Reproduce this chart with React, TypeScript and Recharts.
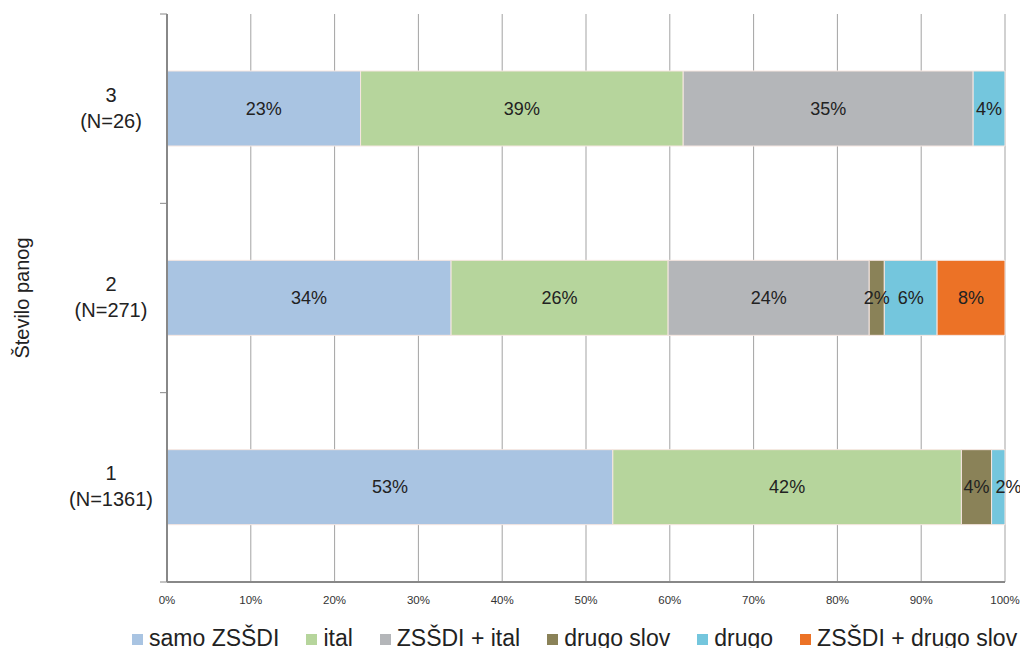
import { BarChart, Bar, XAxis, YAxis, CartesianGrid, Legend, LabelList } from 'recharts';

const panogLabels = ['3', '2', '1'];
const nLabels = ['(N=26)', '(N=271)', '(N=1361)'];

const samoZSSDI = [23.1, 33.9, 53.2];
const ital = [38.5, 25.9, 41.6];
const zssdiItal = [34.6, 24.0, 0];
const drugoSlov = [0, 1.8, 3.6];
const drugo = [3.8, 6.3, 1.6];
const zssdiDrugoSlov = [0, 8.1, 0];

const xTicks = [0, 10, 20, 30, 40, 50, 60, 70, 80, 90, 100];

const series = [
  { key: 'samo', name: 'samo ZSŠDI', color: '#a9c4e2', values: samoZSSDI },
  { key: 'ital', name: 'ital', color: '#b6d59c', values: ital },
  { key: 'zssdiItal', name: 'ZSŠDI + ital', color: '#b4b6b9', values: zssdiItal },
  { key: 'drugoSlov', name: 'drugo slov', color: '#8a8258', values: drugoSlov },
  { key: 'drugo', name: 'drugo', color: '#74c6dd', values: drugo },
  { key: 'zssdiDrugoSlov', name: 'ZSŠDI + drugo slov', color: '#ec7226', values: zssdiDrugoSlov },
];

const data = panogLabels.map((p, i) => {
  const row: Record<string, string | number> = { cat: p, n: nLabels[i] };
  series.forEach((s) => {
    row[s.key] = s.values[i];
  });
  return row;
});

const FONT = '"Liberation Sans", Arial, Helvetica, sans-serif';

function SegmentLabel(props: any) {
  const { x, y, width, height, value } = props;
  if (!value) return null;
  const small = width < 14;
  return (
    <text
      x={small ? x + 4 : x + width / 2}
      y={y + height / 2}
      textAnchor={small ? 'start' : 'middle'}
      dominantBaseline="central"
      fontSize={18}
      fontFamily={FONT}
      fill="#222"
    >
      {Math.round(value)}%
    </text>
  );
}

function CategoryTick(props: any) {
  const { x, y, payload, index } = props;
  const off = payload.offset || 94;
  return (
    <g>
      <line x1={x + 1} x2={x + 8} y1={y - off} y2={y - off} stroke="#888" />
      {index === panogLabels.length - 1 && (
        <line x1={x + 1} x2={x + 8} y1={y + off} y2={y + off} stroke="#888" />
      )}
      <text x={x - 48} y={y - 7} textAnchor="middle" fontSize={20} fontFamily={FONT} fill="#222">
        {payload.value}
      </text>
      <text x={x - 48} y={y + 19} textAnchor="middle" fontSize={20} fontFamily={FONT} fill="#222">
        {nLabels[panogLabels.indexOf(payload.value)]}
      </text>
    </g>
  );
}

function LegendContent() {
  return (
    <div
      style={{
        display: 'flex',
        justifyContent: 'flex-start',
        gap: 27,
        paddingTop: 13,
        paddingLeft: 95,
        width: 1000,
        fontSize: 23,
        lineHeight: '26px',
        fontFamily: FONT,
        color: '#222',
        whiteSpace: 'nowrap',
      }}
    >
      {series.map((s) => (
        <span key={s.key} style={{ display: 'flex', alignItems: 'center' }}>
          <span style={{ display: 'inline-block', width: 11, height: 11, background: s.color, marginRight: 6, marginTop: 3 }} />
          {s.name}
        </span>
      ))}
    </div>
  );
}

export default function App() {
  return (
    <BarChart
      width={1020}
      height={640}
      data={data}
      layout="vertical"
      margin={{ top: 6, right: 23, bottom: 0, left: 29 }}
    >
      <CartesianGrid horizontal={false} stroke="#a3a3a3" />
      <XAxis
        type="number"
        domain={[0, 100]}
        ticks={xTicks}
        tickFormatter={(v) => `${v}%`}
        tickLine={false}
        axisLine={{ stroke: '#888', strokeWidth: 2 }}
        tick={{ fontSize: 11.5, fill: '#333', fontFamily: '"Liberation Sans Narrow", ' + FONT, dy: 6 }}
        height={30}
        interval={0}
      />
      <YAxis
        type="category"
        dataKey="cat"
        width={130}
        tickLine={false}
        axisLine={{ stroke: '#888', strokeWidth: 2 }}
        tick={<CategoryTick />}
        label={{
          value: 'Število panog',
          angle: -90,
          position: 'insideLeft',
          dx: -20,
          style: { fontSize: 20, fill: '#222', fontFamily: FONT, textAnchor: 'middle' },
        }}
      />
      <Legend verticalAlign="bottom" height={36} content={<LegendContent />} />
      {series.map((s) => (
        <Bar
          key={s.key}
          dataKey={s.key}
          name={s.name}
          stackId="a"
          fill={s.color}
          stroke="#f6e6e0"
          strokeWidth={1}
          barSize={75}
          isAnimationActive={false}
        >
          <LabelList dataKey={s.key} content={<SegmentLabel />} />
        </Bar>
      ))}
    </BarChart>
  );
}
